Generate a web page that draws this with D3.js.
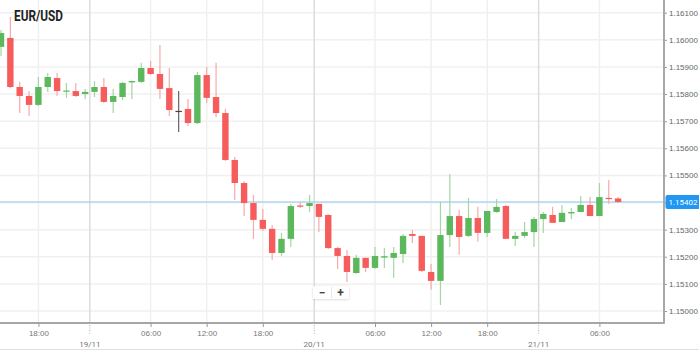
<!DOCTYPE html>
<html>
<head>
<meta charset="utf-8">
<script src="https://cdn.jsdelivr.net/npm/d3@7"></script>
<style>
  html, body { margin: 0; padding: 0; background: #fff; }
  svg { display: block; font-family: Roboto, "Noto Sans", sans-serif; }
</style>
</head>
<body>
<svg id="chart" width="699" height="351"></svg>
<script>
// hourly candles, 18/11 14:00 -> 21/11 08:00 (UTC)
const firstCandle = Date.UTC(2018, 10, 18, 14);
const lastCandle = Date.UTC(2018, 10, 21, 8);

const opens = [1.15974, 1.16007, 1.15826, 1.15793, 1.15760, 1.15826, 1.15859, 1.15809, 1.15811, 1.15800,
  1.15808, 1.15826, 1.15771, 1.15789, 1.15843, 1.15845, 1.15896, 1.15874, 1.15822, 1.15738,
  1.15745, 1.15693, 1.15870, 1.15789, 1.15730, 1.15557, 1.15472, 1.15398, 1.15336, 1.15303,
  1.15214, 1.15266, 1.15389, 1.15387, 1.15395, 1.15354, 1.15232, 1.15203, 1.15140, 1.15196,
  1.15159, 1.15197, 1.15196, 1.15210, 1.15284, 1.15277, 1.15144, 1.15111, 1.15280, 1.15350,
  1.15277, 1.15343, 1.15288, 1.15365, 1.15387, 1.15266, 1.15277, 1.15291, 1.15339, 1.15354,
  1.15328, 1.15360, 1.15365, 1.15391, 1.15350, 1.15417, 1.15415];
const highs = [1.16036, 1.16084, 1.15845, 1.15811, 1.15863, 1.15878, 1.15878, 1.15841, 1.15841, 1.15819,
  1.15848, 1.15859, 1.15819, 1.15845, 1.15850, 1.15915, 1.15922, 1.15981, 1.15896, 1.15811,
  1.15782, 1.15881, 1.15900, 1.15915, 1.15745, 1.15568, 1.15479, 1.15428, 1.15376, 1.15317,
  1.15288, 1.15395, 1.15402, 1.15428, 1.15395, 1.15358, 1.15236, 1.15225, 1.15207, 1.15196,
  1.15236, 1.15232, 1.15236, 1.15284, 1.15299, 1.15277, 1.15173, 1.15402, 1.15505, 1.15373,
  1.15417, 1.15384, 1.15369, 1.15413, 1.15391, 1.15291, 1.15328, 1.15347, 1.15365, 1.15384,
  1.15391, 1.15380, 1.15424, 1.15420, 1.15472, 1.15483, 1.15420];
const lows = [1.15940, 1.15822, 1.15730, 1.15719, 1.15756, 1.15808, 1.15793, 1.15786, 1.15789, 1.15782,
  1.15789, 1.15767, 1.15730, 1.15778, 1.15782, 1.15841, 1.15870, 1.15782, 1.15719, 1.15660,
  1.15682, 1.15690, 1.15767, 1.15715, 1.15553, 1.15409, 1.15350, 1.15266, 1.15295, 1.15188,
  1.15203, 1.15236, 1.15380, 1.15365, 1.15291, 1.15229, 1.15155, 1.15107, 1.15137, 1.15144,
  1.15155, 1.15159, 1.15122, 1.15177, 1.15251, 1.15144, 1.15078, 1.15022, 1.15236, 1.15207,
  1.15273, 1.15255, 1.15273, 1.15362, 1.15266, 1.15240, 1.15269, 1.15236, 1.15288, 1.15325,
  1.15328, 1.15339, 1.15365, 1.15350, 1.15350, 1.15395, 1.15398];
const closes = [1.16025, 1.15826, 1.15793, 1.15760, 1.15826, 1.15863, 1.15811, 1.15813, 1.15793, 1.15808,
  1.15826, 1.15771, 1.15793, 1.15841, 1.15848, 1.15896, 1.15874, 1.15819, 1.15741, 1.15738,
  1.15693, 1.15870, 1.15786, 1.15730, 1.15557, 1.15472, 1.15398, 1.15336, 1.15303, 1.15214,
  1.15266, 1.15387, 1.15385, 1.15398, 1.15347, 1.15232, 1.15203, 1.15144, 1.15196, 1.15159,
  1.15203, 1.15202, 1.15214, 1.15277, 1.15277, 1.15148, 1.15111, 1.15280, 1.15350, 1.15273,
  1.15343, 1.15288, 1.15369, 1.15384, 1.15266, 1.15277, 1.15291, 1.15339, 1.15358, 1.15325,
  1.15362, 1.15365, 1.15391, 1.15350, 1.15420, 1.15413, 1.15402];

const yTicks = [1.150, 1.151, 1.152, 1.153, 1.154, 1.155, 1.156, 1.157, 1.158, 1.159, 1.160, 1.161];
const hourTicks = [
  Date.UTC(2018, 10, 18, 18), Date.UTC(2018, 10, 19, 6), Date.UTC(2018, 10, 19, 12),
  Date.UTC(2018, 10, 19, 18), Date.UTC(2018, 10, 20, 6), Date.UTC(2018, 10, 20, 12),
  Date.UTC(2018, 10, 20, 18), Date.UTC(2018, 10, 21, 6)];
const dayTicks = [Date.UTC(2018, 10, 19), Date.UTC(2018, 10, 20), Date.UTC(2018, 10, 21)];
const lastPrice = 1.15402;
const title = "EUR/USD";

const W = 699, H = 351;
const plotRight = 664, plotBottom = 323;
const hourPx = 9.35;
const axisFont = "8px";

const svg = d3.select("#chart");

const hours = d3.utcHour.range(new Date(firstCandle), new Date(lastCandle + 1));
const candles = hours.map((t, i) => ({ t, o: opens[i], h: highs[i], l: lows[i], c: closes[i] }));

// x: time scale, one hour = hourPx, first candle a pixel from the left
const x0 = firstCandle - 3600e3 / hourPx;
const x = d3.scaleUtc()
  .domain([new Date(x0), new Date(x0 + plotRight / hourPx * 3600e3)])
  .range([0, plotRight]);

const y = d3.scaleLinear()
  .domain([1.150, 1.161])
  .range([311, 12.7]);

//------------------GRID------------------
svg.append("g")
  .selectAll("line")
  .data(yTicks)
  .join("line")
  .attr("x1", 0).attr("x2", plotRight)
  .attr("y1", d => y(d)).attr("y2", d => y(d))
  .attr("stroke", "#f0f0f0")
  .attr("stroke-width", 1.5);

svg.append("g")
  .selectAll("line")
  .data(hourTicks)
  .join("line")
  .attr("x1", d => x(d)).attr("x2", d => x(d))
  .attr("y1", 0).attr("y2", plotBottom)
  .attr("stroke", "#f0f0f0")
  .attr("stroke-width", 1.5);

// day separators sit between candles (half an hour before midnight)
const dayX = d => x(d - 1800e3);
svg.append("g")
  .selectAll("line")
  .data(dayTicks)
  .join("line")
  .attr("x1", dayX).attr("x2", dayX)
  .attr("y1", 0).attr("y2", plotBottom)
  .attr("stroke", "#dcdcdc")
  .attr("stroke-width", 1.5);

//------------------CURRENT PRICE LINE------------------
svg.append("line")
  .attr("x1", 0).attr("x2", plotRight)
  .attr("y1", y(lastPrice)).attr("y2", y(lastPrice))
  .attr("stroke", "#8ec9f0")
  .attr("stroke-width", 1.2);

//------------------CANDLES------------------
const upBody = "#5cb85c", upWick = "#a3d6a3";
const downBody = "#f75c5c", downWick = "#f8a9a9";
const flatBody = "#444", flatWick = "#666";
const bodyColor = d => d.c > d.o ? upBody : d.c < d.o ? downBody : flatBody;
const wickColor = d => d.c > d.o ? upWick : d.c < d.o ? downWick : flatWick;
const bodyW = 6.4;

const g = svg.append("g");
g.selectAll("line.wick")
  .data(candles)
  .join("line")
  .attr("class", "wick")
  .attr("x1", d => x(d.t)).attr("x2", d => x(d.t))
  .attr("y1", d => y(d.h)).attr("y2", d => y(d.l))
  .attr("stroke", wickColor)
  .attr("stroke-width", 1.2);

g.selectAll("rect.body")
  .data(candles)
  .join("rect")
  .attr("class", "body")
  .attr("x", d => x(d.t) - bodyW / 2)
  .attr("y", d => y(Math.max(d.o, d.c)))
  .attr("width", bodyW)
  .attr("height", d => Math.max(1.2, Math.abs(y(d.o) - y(d.c))))
  .attr("fill", bodyColor);

//------------------AXES------------------
svg.append("line")
  .attr("x1", 0).attr("x2", plotRight)
  .attr("y1", plotBottom).attr("y2", plotBottom)
  .attr("stroke", "#8a8a8a").attr("stroke-width", 1.5);
svg.append("line")
  .attr("x1", plotRight).attr("x2", plotRight)
  .attr("y1", 0).attr("y2", plotBottom + 0.75)
  .attr("stroke", "#a8a8a8").attr("stroke-width", 2);

const yAxis = svg.append("g")
  .attr("transform", `translate(${plotRight + 1},0)`)
  .call(d3.axisRight(y).tickValues(yTicks).tickFormat(d3.format(".5f")).tickSize(2).tickPadding(2));
yAxis.select(".domain").remove();
yAxis.selectAll(".tick line").attr("stroke", "#999");
yAxis.selectAll(".tick text").attr("fill", "#666").style("font-size", axisFont);

const xAxis = svg.append("g")
  .attr("transform", `translate(0,${plotBottom})`)
  .call(d3.axisBottom(x).tickValues(hourTicks.map(d => new Date(d)))
    .tickFormat(d3.utcFormat("%H:%M")).tickSize(4).tickPadding(3));
xAxis.select(".domain").remove();
xAxis.selectAll(".tick line").attr("stroke", "#999");
xAxis.selectAll(".tick text").attr("fill", "#777").style("font-size", axisFont);

// day labels under the dotted separator ticks
const dayG = svg.append("g").selectAll("g").data(dayTicks).join("g")
  .attr("transform", d => `translate(${dayX(d)},${plotBottom})`);
dayG.append("line")
  .attr("y1", 2).attr("y2", 12)
  .attr("stroke", "#aaa").attr("stroke-dasharray", "1,1.5");
dayG.append("text")
  .attr("y", 23.5)
  .attr("text-anchor", "middle")
  .attr("fill", "#777")
  .style("font-size", axisFont)
  .text(d3.utcFormat("%d/%m"));

// current price tag on the axis
const tag = svg.append("g").attr("transform", `translate(${plotRight + 1.5},${y(lastPrice)})`);
tag.append("rect")
  .attr("x", 0).attr("y", -7).attr("width", W - plotRight).attr("height", 14)
  .attr("rx", 2).attr("fill", "#2196f3");
tag.append("text")
  .attr("x", 3).attr("dy", "0.35em")
  .attr("fill", "#fff").style("font-size", axisFont)
  .text(d3.format(".5f")(lastPrice));

// bottom border
svg.append("line")
  .attr("x1", 0).attr("x2", W)
  .attr("y1", 349.5).attr("y2", 349.5)
  .attr("stroke", "#e0e0e0");

//------------------TITLE------------------
svg.append("text")
  .attr("x", 14).attr("y", 21)
  .attr("font-weight", "bold")
  .attr("fill", "#222")
  .style("font-size", "14px")
  .attr("textLength", 49).attr("lengthAdjust", "spacingAndGlyphs")
  .text(title);

//------------------ZOOM BUTTONS------------------
const defs = svg.append("defs");
const f = defs.append("filter").attr("id", "sh").attr("x", "-20%").attr("y", "-40%").attr("width", "140%").attr("height", "180%");
f.append("feDropShadow").attr("dx", 0).attr("dy", 0.5).attr("stdDeviation", 1).attr("flood-color", "#000").attr("flood-opacity", 0.18);
const zb = svg.append("g").attr("transform", "translate(313,286)");
zb.append("rect").attr("width", 36).attr("height", 13).attr("rx", 1.5)
  .attr("fill", "#fff").attr("filter", "url(#sh)");
zb.append("line").attr("x1", 18.5).attr("x2", 18.5).attr("y1", 1).attr("y2", 12).attr("stroke", "#e6e6e6");
zb.append("text").attr("x", 9).attr("y", 10.5).attr("text-anchor", "middle")
  .attr("fill", "#444").attr("font-weight", "bold").style("font-size", "12px").text("\u2212");
zb.append("text").attr("x", 27.5).attr("y", 10.5).attr("text-anchor", "middle")
  .attr("fill", "#444").attr("font-weight", "bold").style("font-size", "12px").text("+");
</script>
</body>
</html>
